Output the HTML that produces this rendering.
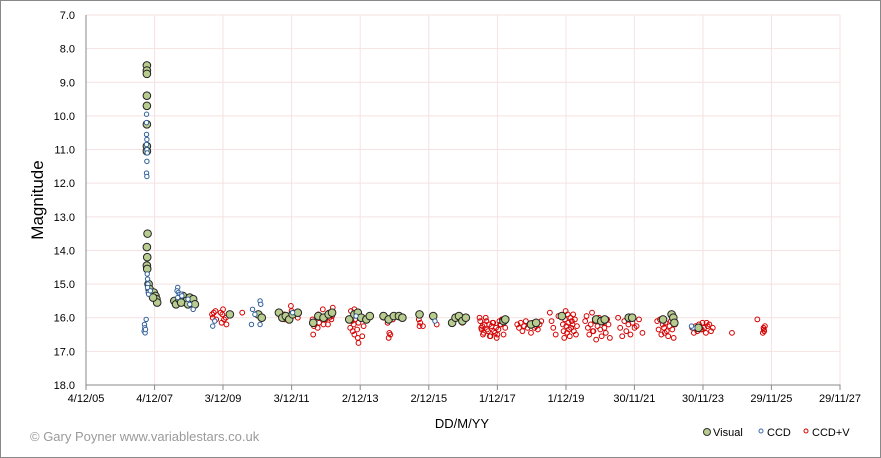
<!DOCTYPE html>
<html><head><meta charset="utf-8">
<style>
html,body{margin:0;padding:0;background:#fff;}
#wrap{position:relative;width:881px;height:458px;overflow:hidden;font-family:"Liberation Sans",sans-serif;}
svg text{font-family:"Liberation Sans",sans-serif;}
</style></head>
<body>
<div id="wrap">
<svg id="chart" width="881" height="458" xmlns="http://www.w3.org/2000/svg">
<rect x="0.5" y="0.5" width="880" height="457" fill="#fff" stroke="#888"/>
<g id="grid"></g>
<g id="axes"></g>
<g id="marks"></g>
<text x="43" y="200" font-size="17" text-anchor="middle" transform="rotate(-90 43 200)" fill="#000">Magnitude</text>
<text x="462" y="428" font-size="13" text-anchor="middle" fill="#000">DD/M/YY</text>
<text x="30" y="441" font-size="13" fill="#9a9a9a">© Gary Poyner www.variablestars.co.uk</text>
<g>
<g><circle cx="707" cy="432" r="3.5" fill="#b9cc8f" stroke="#333"/><text x="713" y="436" font-size="11">Visual</text></g>
<g><circle cx="761" cy="431" r="2" fill="#fff" stroke="#3b6aa0"/><text x="767" y="436" font-size="11">CCD</text></g>
<g><circle cx="806" cy="431" r="2" fill="#fff" stroke="#d40000"/><text x="812" y="436" font-size="11">CCD+V</text></g>
</g>
</svg>
</div>
<script>
const yTicks=[7,8,9,10,11,12,13,14,15,16,17,18];
const xTickYears=[2005.925,2007.925,2009.92,2011.92,2013.92,2015.92,2017.92,2019.92,2021.915,2023.915,2025.91,2027.91];
const xTickLabels=["4/12/05","4/12/07","3/12/09","3/12/11","2/12/13","2/12/15","1/12/17","1/12/19","30/11/21","30/11/23","29/11/25","29/11/27"];

const visualYears=[2007.70,2007.70,2007.70,2007.70,2007.70,2007.70,2007.70,2007.70,2007.72,2007.70,2007.71,2007.70,2007.71,
2007.75,2007.78,2007.80,2007.85,2007.90,2007.95,2007.98,2008.0,2007.88,
2008.50,2008.55,2008.65,2008.75,2008.85,2008.95,2009.0,2009.05,2009.10,2008.7,2008.9,
2010.12,2010.95,2011.05,
2011.55,2011.65,2011.75,2011.85,2011.95,2012.1,
2012.55,2012.7,2012.85,2013.0,2013.1,
2013.6,2013.75,2013.85,2013.95,2014.1,2014.2,
2014.6,2014.75,2014.9,2015.05,2015.15,
2015.65,2016.05,
2016.6,2016.7,2016.8,2016.9,2017.0,
2018.1,2018.15,2018.9,2019.05,2019.8,
2020.8,2020.95,2021.05,2021.75,2021.85,
2022.75,2023.0,2023.05,2023.08,2023.78];
const visualMags=[8.5,8.65,8.75,9.4,9.7,10.25,10.9,11.05,13.5,13.9,14.2,14.45,14.55,
15.0,15.15,15.25,15.3,15.25,15.35,15.45,15.55,15.4,
15.5,15.6,15.45,15.35,15.5,15.4,15.55,15.45,15.6,15.55,15.6,
15.9,15.9,16.0,
15.85,16.0,15.95,16.05,15.9,15.85,
16.15,15.95,16.0,15.9,15.85,
16.05,15.9,15.85,16.0,16.05,15.95,
15.95,16.05,15.95,15.95,16.0,
15.9,15.95,
16.15,16.0,15.95,16.1,16.0,
16.1,16.05,16.2,16.15,15.95,
16.05,16.1,16.05,16.0,16.0,
16.05,15.9,16.0,16.15,16.3];

const ccdYears=[2007.63,2007.64,2007.62,2007.65,2007.66,2007.68,
2007.69,2007.69,2007.69,2007.70,2007.69,2007.70,2007.71,2007.70,2007.69,2007.70,
2007.71,2007.72,2007.73,2007.72,2007.74,2007.75,2007.8,
2008.60,2008.58,2008.62,2008.65,2008.6,2008.7,2008.72,2008.9,2008.95,2009.05,
2009.68,2009.62,2010.75,2010.78,2010.85,2011.0,2011.02,2011.0,2011.95,2013.8,2016.1,2023.62,2023.58];
const ccdMags=[16.2,16.3,16.4,16.45,16.35,16.05,
9.95,10.2,10.55,10.7,10.85,11.0,11.1,11.35,11.7,11.8,
14.7,14.85,15.0,15.1,15.25,15.3,15.2,
15.1,15.2,15.25,15.3,15.4,15.3,15.35,15.45,15.6,15.75,
16.1,16.25,16.2,15.75,15.9,15.5,15.6,16.2,15.85,15.95,16.1,16.3,16.25];

const ccdvYears=[2009.6,2009.62,2009.65,2009.7,2009.72,2009.9,2009.92,2009.88,2009.95,2009.85,2010.0,2010.02,2010.48,
2011.7,2011.72,2011.9,2011.92,2012.1,
2012.55,2012.57,2012.53,2012.7,2012.72,2012.68,2012.85,2012.87,2012.83,2012.9,2013.0,2013.02,2012.98,2013.1,2013.12,2013.08,
2013.65,2013.67,2013.63,2013.7,2013.75,2013.77,2013.73,2013.75,2013.85,2013.87,2013.83,2013.85,2013.87,2014.0,2014.02,2013.98,
2014.75,2014.8,2014.77,2014.72,2014.85,2014.87,2014.6,
2015.65,2015.67,2015.63,2015.75,2016.15,2016.9,
2017.40,2017.45,2017.50,2017.55,2017.60,2017.65,2017.70,2017.75,2017.80,2017.85,2017.90,2017.95,2018.00,2018.05,2018.10,2018.15,2017.42,2017.48,2017.52,2017.58,2017.62,2017.68,2017.72,2017.78,2017.82,2017.88,2017.92,2017.98,2018.02,2017.46,
2018.50,2018.55,2018.60,2018.65,2018.70,2018.75,2018.80,2018.85,2018.90,2018.95,2019.00,2019.05,2019.10,2019.15,2019.20,
2019.45,2019.50,2019.55,2019.62,2019.70,2019.83,2019.85,2019.87,2019.89,2019.91,2019.93,2019.95,2019.97,2019.99,2020.01,2020.03,2020.05,2020.07,2020.09,2020.11,2020.13,2020.15,2020.18,2020.21,2020.24,
2020.48,2020.52,2020.56,2020.6,2020.64,2020.68,2020.72,2020.76,2020.8,2020.84,2020.88,2020.92,2020.96,2021.0,2021.04,2021.08,2021.12,2021.16,2021.2,2020.7,
2021.44,2021.5,2021.56,2021.62,2021.68,2021.74,2021.8,2021.86,2021.92,2021.98,2022.05,2022.15,
2022.58,2022.62,2022.66,2022.7,2022.74,2022.78,2022.82,2022.86,2022.9,2022.94,2022.98,2023.02,2023.06,2023.1,2022.8,
2023.6,2023.65,2023.7,2023.75,2023.8,2023.85,2023.9,2023.95,2024.0,2024.05,2024.1,2024.15,2024.2,2023.88,2024.02,
2024.76,2025.5,2025.68,2025.7,2025.66,2025.69,2025.72];
const ccdvMags=[15.9,16.0,15.85,15.8,16.05,15.9,15.75,16.15,16.05,15.85,16.0,16.2,15.85,
15.9,16.05,15.65,15.8,16.0,
16.5,16.25,16.05,15.9,16.15,16.3,16.2,16.0,15.75,16.05,15.85,16.0,16.2,15.95,15.7,16.05,
15.8,16.1,16.3,16.4,15.75,16.05,16.2,16.5,15.95,16.15,16.35,16.6,16.75,16.0,16.25,16.55,
16.6,16.5,16.45,16.15,15.95,16.05,16.0,
16.25,16.15,16.05,16.25,16.2,16.15,
16.0,16.3,16.5,16.2,16.1,16.4,16.55,16.25,16.15,16.45,16.6,16.35,16.2,16.05,16.5,16.3,16.1,16.25,16.45,16.0,16.35,16.2,16.55,16.15,16.4,16.3,16.5,16.1,16.2,16.35,
16.2,16.3,16.15,16.4,16.25,16.1,16.3,16.2,16.45,16.15,16.3,16.25,16.35,16.2,16.1,
15.85,16.1,16.3,16.5,15.95,16.2,16.4,16.6,16.05,15.8,16.25,16.45,15.9,16.15,16.35,16.55,16.0,16.3,16.1,16.2,15.9,16.4,16.05,16.5,16.25,
16.1,15.95,16.3,16.5,16.2,15.85,16.4,16.1,16.65,16.25,16.0,16.35,16.55,16.15,16.3,16.45,16.05,16.2,16.6,16.4,
16.0,16.3,16.55,16.1,16.4,16.2,16.5,16.15,16.3,16.25,16.05,16.45,
16.1,16.35,16.05,16.5,16.2,16.3,16.15,16.4,16.55,16.25,16.1,16.35,16.6,16.2,16.45,
16.3,16.45,16.25,16.4,16.2,16.35,16.15,16.3,16.45,16.25,16.2,16.4,16.3,16.35,16.15,
16.45,16.05,16.3,16.4,16.45,16.35,16.25];

const X0=86,X1=840,Y0=15,Y1=385;
function xs(yr){return X0+(yr-xTickYears[0])/(xTickYears[xTickYears.length-1]-xTickYears[0])*(X1-X0);}
function ys(m){return Y0+(m-yTicks[0])/(yTicks[yTicks.length-1]-yTicks[0])*(Y1-Y0);}
const NS="http://www.w3.org/2000/svg";
function mk(parent,tag,attrs){const e=document.createElementNS(NS,tag);for(const k in attrs)e.setAttribute(k,attrs[k]);parent.appendChild(e);return e;}
const grid=document.getElementById('grid'),axes=document.getElementById('axes'),marks=document.getElementById('marks');
yTicks.forEach(function(t){
  const y=ys(t);
  const g=mk(grid,'line',{x1:X0,x2:X1,y1:y,y2:y,stroke:'#f5e2e2','stroke-width':1});
  
  
  const l=mk(axes,'text',{x:75,y:y+4,'font-size':11,'text-anchor':'end',fill:'#000'});
  l.textContent=t.toFixed(1);
  
  
});
xTickYears.forEach(function(t,i){
  const x=xs(t);
  const g=mk(grid,'line',{x1:x,x2:x,y1:Y0,y2:Y1,stroke:'#f5e2e2','stroke-width':1});
  
  
  const tk=mk(axes,'line',{x1:x,x2:x,y1:Y1,y2:Y1+5,stroke:'#888'});
  
  
  const l=mk(axes,'text',{x:x,y:Y1+17,'font-size':11,'text-anchor':'middle',fill:'#000'});
  l.textContent=xTickLabels[i];
  
  
});
const ax=mk(axes,'path',{d:'M'+X0+' '+Y0+'V'+Y1+'H'+X1+'V'+(Y1+5),fill:'none',stroke:'#888'});


ccdvYears.forEach(function(yr,i){
  const c=mk(marks,'circle',{cx:xs(yr),cy:ys(ccdvMags[i]),r:2.4,fill:'none',stroke:'#d40000','stroke-width':1});
  
  
});
visualYears.forEach(function(yr,i){
  const c=mk(marks,'circle',{cx:xs(yr),cy:ys(visualMags[i]),r:3.8,fill:'#b9cc8f',stroke:'#222','stroke-width':1});
  
  
});
ccdYears.forEach(function(yr,i){
  const c=mk(marks,'circle',{cx:xs(yr),cy:ys(ccdMags[i]),r:2.2,fill:'#fff',stroke:'#2f5f9a','stroke-width':1});
  
  
});
</script>
</body></html>
